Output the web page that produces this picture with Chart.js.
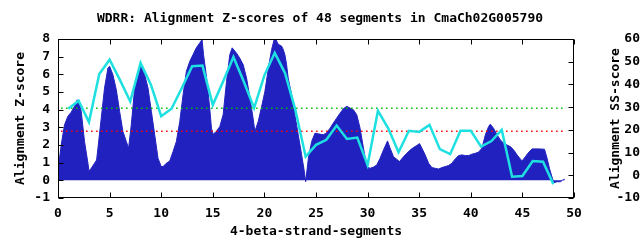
<!DOCTYPE html>
<html lang="en">
<head>
<meta charset="UTF-8">
<title>WDRR Alignment Z-scores</title>
<script src="https://cdn.jsdelivr.net/npm/chart.js"></script>
<style>
  html, body { margin: 0; padding: 0; background: #fff; }
</style>
</head>
<body>
<canvas id="zChart" width="640" height="240"></canvas>
<script>
// Z-score profile along the protein (fine resolution, x in segment units)
const zPos = [0, 0.05, 0.15, 0.31, 0.47, 0.63, 0.95, 1.28, 1.6, 1.86, 2.09, 2.25, 2.57, 2.9, 3.0, 3.22, 3.54, 3.74, 3.87,
  4.19, 4.51, 4.84, 5.0, 5.32, 5.65, 5.97, 6.29, 6.62, 6.84, 7.1, 7.43, 7.75, 8.0, 8.4, 8.72, 9.05, 9.37, 9.69, 10.0,
  10.18, 10.5, 10.83, 11.15, 11.47, 11.8, 12.12, 12.44, 12.77, 13.09, 13.4, 13.74, 13.96, 14.1, 14.4, 14.7, 14.87,
  15.03, 15.35, 15.68, 16.0, 16.33, 16.65, 16.88, 17.3, 17.6, 17.94, 18.27, 18.6, 18.9, 19.08, 19.4, 19.7, 20.05,
  20.4, 20.7, 21.0, 21.34, 21.66, 21.83, 21.99, 22.15, 22.3, 22.64, 22.96, 23.28, 23.61, 23.87, 24.0, 24.26, 24.58,
  24.9, 25.23, 25.7, 26.0, 26.36, 26.68, 27.0, 27.33, 27.65, 27.98, 28.3, 28.62, 28.95, 29.27, 29.6, 29.92, 30.24,
  30.57, 30.89, 31.21, 31.54, 31.93, 32.18, 32.51, 33.09, 33.48, 33.8, 34.13, 34.45, 34.77, 35.03, 35.26, 35.58,
  35.91, 36.23, 36.55, 36.88, 37.2, 37.52, 37.85, 38.17, 38.49, 38.82, 39.14, 39.47, 39.79, 40.11, 40.44, 40.76,
  41.08, 41.41, 41.73, 41.89, 42.2, 42.54, 42.86, 43.19, 43.51, 43.83, 44.16, 44.48, 44.8, 44.97, 45.29, 45.61,
  45.94, 46.59, 47.14, 47.39, 47.62, 47.81, 48.04, 48.36, 48.68, 48.91, 49.1];
const zScores = [0.15, 0.9, 1.25, 2.0, 2.58, 3.14, 3.62, 3.86, 4.19, 4.56, 4.38, 3.9, 2.2, 0.97, 0.53, 0.68, 0.97, 1.15, 1.82,
  3.52, 5.23, 6.36, 6.46, 5.98, 5.13, 3.9, 2.77, 2.2, 1.82, 3.14, 5.23, 6.17, 6.52, 5.98, 5.23, 3.9, 2.58, 1.25, 0.78,
  0.78, 0.97, 1.1, 1.63, 2.2, 3.33, 4.85, 6.17, 6.74, 7.12, 7.5, 7.78, 7.97, 7.12, 5.8, 4.1, 2.95,
  2.61, 2.77, 3.05, 3.71, 5.6, 7.12, 7.5, 7.2, 6.93, 6.55, 5.8, 4.66, 3.52, 2.77, 3.33, 4.09, 5.04,
  6.4, 7.4, 8.1, 7.7, 7.6, 7.4, 7.1, 6.55, 5.8, 4.85, 3.7, 2.58, 1.44, 0.5, -0.08, 1.25, 2.2,
  2.67, 2.63, 2.58, 2.67, 2.95, 3.24, 3.52, 3.8, 4.05, 4.19, 4.09, 4.0, 3.71, 2.95, 1.82, 0.78, 0.68,
  0.75, 0.87, 1.25, 1.72, 2.23, 1.82, 1.34, 1.06, 1.34, 1.53, 1.72, 1.86, 1.97, 2.08, 1.82, 1.44,
  0.97, 0.72, 0.68, 0.64, 0.72, 0.78, 0.84, 0.97, 1.21, 1.4, 1.44, 1.4, 1.4, 1.48, 1.53, 1.6,
  1.82, 2.58, 3.05, 3.18, 2.95, 2.58, 2.29, 2.1, 2.0, 1.91, 1.72, 1.44, 1.21, 1.1, 1.34, 1.59,
  1.78, 1.78, 1.76, 1.25, 0.68, 0.3, -0.13, -0.08, -0.08, 0.02, 0.06];

// SS-score per segment (right axis)
const segments = [1, 2, 3, 4, 5, 6, 7, 8, 9, 10, 11, 12, 13, 14, 15, 16, 17, 18, 19, 20, 21, 22, 23, 24,
  25, 26, 27, 28, 29, 30, 31, 32, 33, 34, 35, 36, 37, 38, 39, 40, 41, 42, 43, 44, 45, 46, 47, 48];
const ssScores = [29.3, 32.8, 23.4, 44.6, 50.9, 42, 32.5, 49.5, 39.9, 26, 29.3, 38.4, 48, 48.3, 31, 41.3,
  52.1, 41.3, 29.6, 44, 53.9, 45, 28.8, 8.2, 13.4, 15.6, 21.9, 16, 16.6, 4.5, 28.4, 20.7,
  10.1, 19.6, 19.1, 22.2, 11.5, 9.3, 19.6, 19.6, 12.6, 15.1, 20, -0.6, -0.3, 6.3, 6, -3.9];

// cutoff lines (Z-score)
const cutX = [0.3, 49.2];
const greenCut = [4.08, 4.08];
const redCut = [2.78, 2.78];

const pts = (xs, ys) => xs.map((x, i) => ({ x: x, y: ys[i] }));

Chart.defaults.font.family = "'DejaVu Sans Mono', monospace";
Chart.defaults.font.size = 13;
Chart.defaults.font.weight = 'bold';
Chart.defaults.color = '#000';

const TICK = 5;

// gnuplot style frame: border box, inward ticks, right-hand title
const frameTicks = {
    id: 'frameTicks',
    afterDatasetsDraw(chart) {
        const { ctx, chartArea: a, scales } = chart;
        const L = Math.round(a.left) + 0.5, R = Math.round(a.right) - 0.5;
        const T = Math.round(a.top) + 0.5, B = Math.round(a.bottom) - 0.5;
        ctx.save();
        ctx.strokeStyle = '#000';
        ctx.lineWidth = 1;
        ctx.beginPath();
        scales.x.ticks.forEach(t => {
            const px = Math.round(scales.x.getPixelForValue(t.value)) + 0.5;
            ctx.moveTo(px, B); ctx.lineTo(px, B - TICK);
            ctx.moveTo(px, T); ctx.lineTo(px, T + TICK);
        });
        scales.y.ticks.forEach(t => {
            const py = Math.round(scales.y.getPixelForValue(t.value)) + 0.5;
            ctx.moveTo(L, py); ctx.lineTo(L + TICK, py);
        });
        scales.y2.ticks.forEach(t => {
            const py = Math.round(scales.y2.getPixelForValue(t.value)) + 0.5;
            ctx.moveTo(R, py); ctx.lineTo(R - TICK, py);
        });
        ctx.stroke();
        ctx.strokeRect(L, T, R - L, B - T);

        ctx.translate(616, (a.top + a.bottom) / 2);
        ctx.rotate(-Math.PI / 2);
        ctx.font = "bold 13px 'DejaVu Sans Mono', monospace";
        ctx.fillStyle = '#000';
        ctx.textAlign = 'center';
        ctx.textBaseline = 'middle';
        ctx.fillText('Alignment SS-score', 0, 0);
        ctx.restore();
    }
};

new Chart(document.getElementById('zChart'), {
    type: 'line',
    data: {
        datasets: [
            {
                label: 'SS-score',
                data: pts(segments, ssScores),
                yAxisID: 'y2',
                borderColor: '#1ee0e0',
                borderWidth: 2.5,
                pointRadius: 0,
                fill: false,
                order: 1
            },
            {
                label: 'cut high',
                data: pts(cutX, greenCut),
                yAxisID: 'y',
                borderColor: '#00c000',
                borderWidth: 1.5,
                borderDash: [1.5, 3.5],
                pointRadius: 0,
                fill: false,
                order: 2
            },
            {
                label: 'cut low',
                data: pts(cutX, redCut),
                yAxisID: 'y',
                borderColor: '#ff0000',
                borderWidth: 1.5,
                borderDash: [1.5, 3.5],
                pointRadius: 0,
                fill: false,
                order: 2
            },
            {
                label: 'Z-score',
                data: pts(zPos, zScores),
                yAxisID: 'y',
                borderColor: '#2121c0',
                backgroundColor: '#2121c0',
                borderWidth: 1,
                pointRadius: 0,
                fill: 'origin',
                order: 4
            }
        ]
    },
    options: {
        responsive: false,
        animation: false,
        layout: { padding: 0 },
        plugins: {
            legend: { display: false },
            tooltip: { enabled: false },
            title: {
                display: true,
                text: 'WDRR: Alignment Z-scores of 48 segments in CmaCh02G005790',
                font: { size: 13, weight: 'bold' },
                color: '#000',
                padding: { top: 11, bottom: 12.4 }
            }
        },
        scales: {
            x: {
                type: 'linear',
                min: 0,
                max: 50,
                grid: { display: false, drawTicks: false },
                border: { display: false },
                ticks: { stepSize: 5, padding: 8, maxRotation: 0, autoSkip: false },
                title: { display: true, text: '4-beta-strand-segments', padding: { top: 0, bottom: 1 } },
                afterFit: s => { s.height = 42; }
            },
            y: {
                position: 'left',
                min: -1,
                max: 8,
                grid: { display: false, drawTicks: false },
                border: { display: false },
                ticks: { stepSize: 1, padding: 8, autoSkip: false },
                title: { display: true, text: 'Alignment Z-score', padding: { top: 13, bottom: 0 } },
                afterFit: s => { s.width = 58; }
            },
            y2: {
                position: 'right',
                min: -10,
                max: 60,
                grid: { display: false, drawTicks: false },
                border: { display: false },
                ticks: { stepSize: 10, padding: 3.5, crossAlign: 'far', autoSkip: false },
                afterFit: s => { s.width = 66; }
            }
        }
    },
    plugins: [frameTicks]
});
</script>
</body>
</html>
